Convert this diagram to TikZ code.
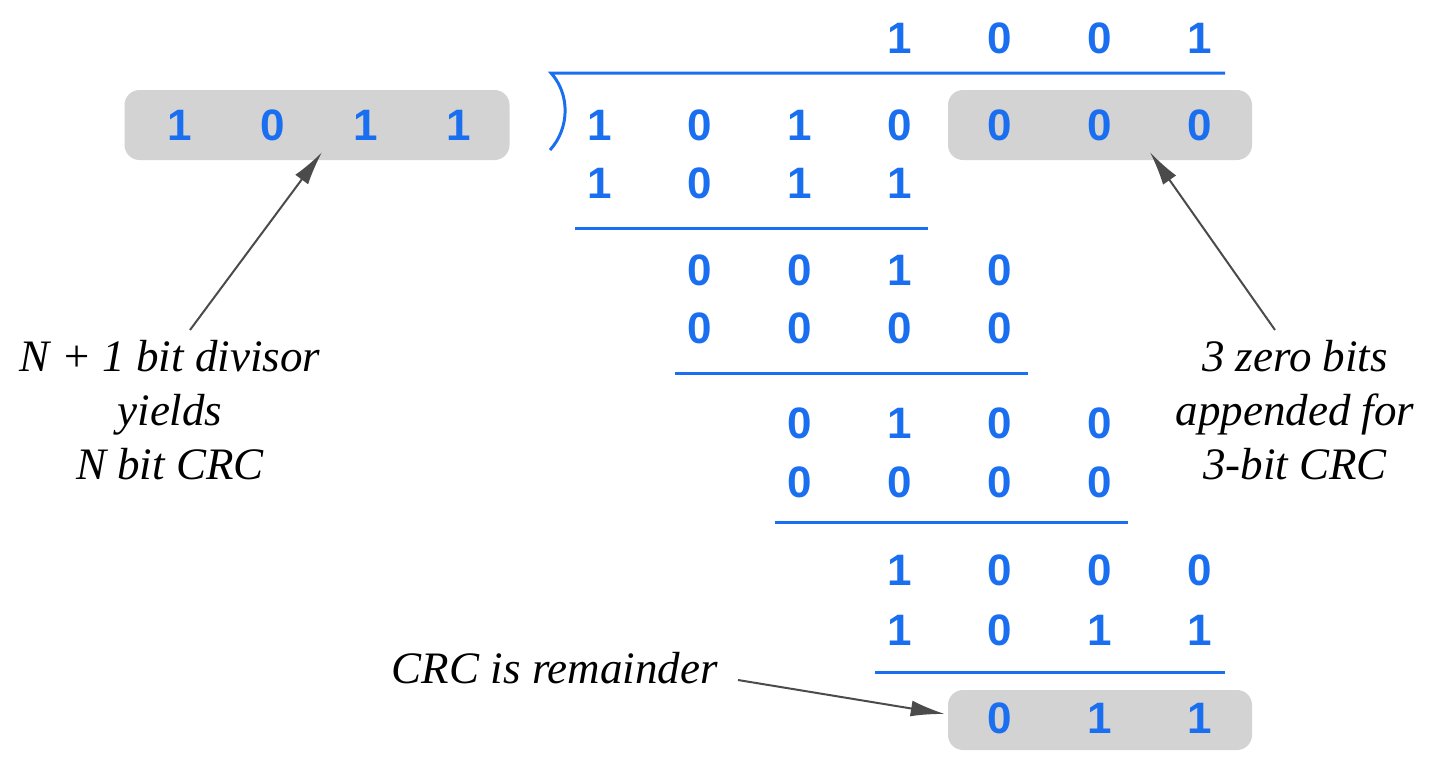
\documentclass[tikz,border=0pt]{standalone}
\usepackage{fontspec}
\setmainfont{Liberation Serif}
\newfontfamily\bitfamily{Liberation Sans}
\usetikzlibrary{arrows.meta}
\definecolor{bitblue}{RGB}{26,110,240}
\definecolor{boxgray}{RGB}{211,211,211}
\definecolor{arrowgray}{RGB}{75,75,75}
\tikzstyle{bit} = [text=bitblue, font=\bitfamily\bfseries\fontsize{44}{44}\selectfont, inner sep=0pt]
\tikzstyle{graybox} = [rectangle, fill=boxgray, rounded corners=15pt, inner sep=0pt]
\tikzstyle{remark} = [font=\itshape\fontsize{45}{54}\selectfont, align=center, inner sep=0pt]
\tikzstyle{divline} = [draw=bitblue, line width=3pt]
\tikzstyle{pointer} = [draw=arrowgray, line width=2pt, -{Latex[length=34pt,width=16pt]}]

\begin{document}
\begin{tikzpicture}[x=1pt, y=-1pt]
  \useasboundingbox (0,0) rectangle (1432,764);
  % shaded groups
  \node [graybox, minimum width=385pt, minimum height=70pt] (divisor) at (317,125) {};
  \node [graybox, minimum width=304pt, minimum height=70pt] (zeros)   at (1100,125) {};
  \node [graybox, minimum width=304pt, minimum height=60pt] (crc)     at (1100,720) {};
  % divisor and quotient
  \foreach \b [count=\i] in {1,0,1,1} \node [bit] (d\i) at (87+93*\i,125) {\b};
  \foreach \b [count=\i] in {1,0,0,1} \node [bit] (q\i) at (800+100*\i,38) {\b};
  % long division
  \foreach \b [count=\i] in {1,0,1,0,0,0,0} \node [bit] (m\i) at (500+100*\i,125) {\b};
  \foreach \b [count=\i] in {1,0,1,1} \node [bit] (s1\i) at (500+100*\i,183) {\b};
  \foreach \b [count=\i] in {0,0,1,0} \node [bit] (r1\i) at (600+100*\i,270) {\b};
  \foreach \b [count=\i] in {0,0,0,0} \node [bit] (s2\i) at (600+100*\i,328) {\b};
  \foreach \b [count=\i] in {0,1,0,0} \node [bit] (r2\i) at (700+100*\i,423) {\b};
  \foreach \b [count=\i] in {0,0,0,0} \node [bit] (s3\i) at (700+100*\i,482) {\b};
  \foreach \b [count=\i] in {1,0,0,0} \node [bit] (r3\i) at (800+100*\i,570) {\b};
  \foreach \b [count=\i] in {1,0,1,1} \node [bit] (s4\i) at (800+100*\i,630) {\b};
  \foreach \b [count=\i] in {0,1,1}   \node [bit] (rem\i) at (900+100*\i,718) {\b};
  % bracket and bars
  \draw [divline] (550,150) .. controls (570,128) and (570,94) .. (551,73) -- (1225,73);
  \draw [divline] ([shift={(-25pt,-45pt)}]s11.center) -- ([shift={(28pt,-45pt)}]s14.center);
  \draw [divline] ([shift={(-25pt,-45pt)}]s21.center) -- ([shift={(28pt,-45pt)}]s24.center);
  \draw [divline] ([shift={(-25pt,-40pt)}]s31.center) -- ([shift={(28pt,-40pt)}]s34.center);
  \draw [divline] ([shift={(-25pt,-42pt)}]s41.center) -- ([shift={(25pt,-42pt)}]s44.center);
  % notes
  \node [remark] (divnote)  at (170,410) {N + 1 bit divisor\\yields\\N bit CRC};
  \node [remark] (zeronote) at (1295,410) {3 zero bits\\appended for\\3-bit CRC};
  \node [remark, anchor=east] (crcnote) at (718,668) {CRC is remainder};
  \path [pointer] ([xshift=20pt,yshift=10pt]divnote.north) -- ([xshift=5pt,yshift=8pt]divisor.south);
  \path [pointer] ([xshift=-20pt,yshift=10pt]zeronote.north) -- ([xshift=50pt,yshift=8pt]zeros.south);
  \path [pointer] ([xshift=20pt,yshift=-12pt]crcnote.east) -- ([xshift=-3pt,yshift=6pt]crc.west);
\end{tikzpicture}
\end{document}
